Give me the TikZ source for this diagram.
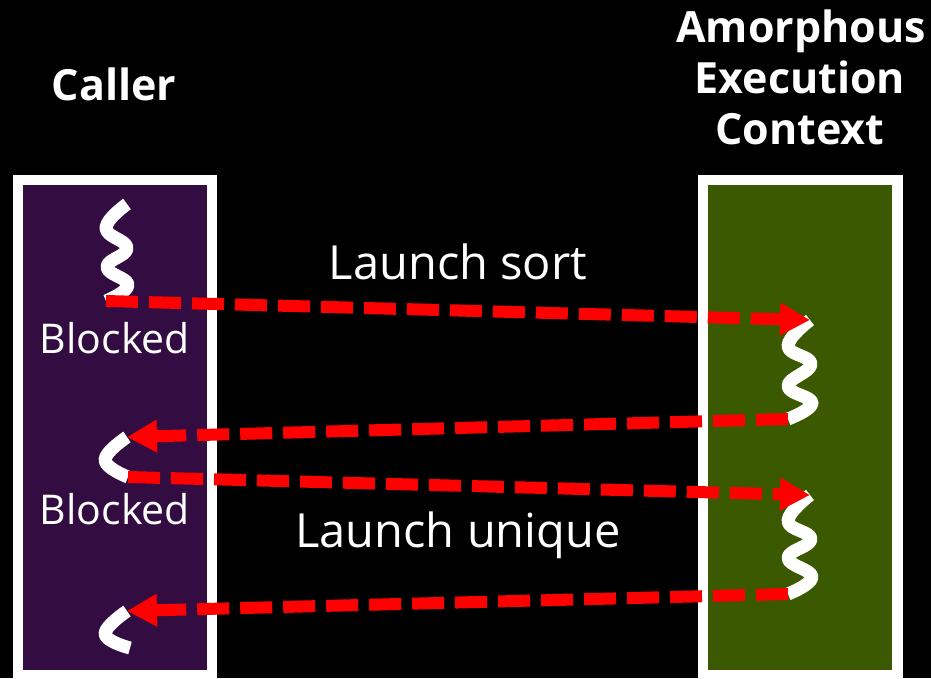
\documentclass[tikz,border=0pt]{standalone}
\usepackage{fontspec}
\setmainfont{Open Sans}
\usetikzlibrary{arrows.meta}
\definecolor{callerbg}{HTML}{330C42}
\definecolor{ctxbg}{HTML}{3B5900}
\tikzset{
  lbl/.style={text=white, inner sep=0pt, anchor=base},
  title/.style={lbl, font=\bfseries\fontsize{43}{50}\selectfont},
  blk/.style={lbl, font=\fontsize{41}{48}\selectfont},
  launch/.style={lbl, font=\fontsize{47}{54}\selectfont},
  thread/.style={draw=white, line width=13pt, line cap=butt, line join=round},
  msg/.style={draw=red, line width=12pt, dash pattern=on 32pt off 11pt,
    -{Triangle[length=30pt,width=31pt]}},
}
\begin{document}
\begin{tikzpicture}[x=1pt,y=-1pt]
\useasboundingbox (0,0) rectangle (931,678);
\fill[black] (0,0) rectangle (931,678);
% boxes
\fill[white] (13,175) rectangle (217,678);
\fill[callerbg] (23,185) rectangle (207,670);
\fill[white] (698,175) rectangle (903,678);
\fill[ctxbg] (708,185) rectangle (892,670);
% titles
\node[title] (caller) at (114,100) {Caller};
\node[title] (t1) at (801,42) {Amorphous};
\node[title] (t2) at (800,93) {Execution};
\node[title] (t3) at (800,144) {Context};
% labels
\node[launch] (ls) at (458,279) {Launch sort};
\node[launch] (lu) at (458,547) {Launch unique};
\node[blk] (b1) at (115,353) {Blocked};
\node[blk] (b2) at (115,524) {Blocked};
% thread end points
\coordinate (c1s) at (127,204);
\coordinate (c1e) at (106,301);
\coordinate (e1s) at (810,320);
\coordinate (e1e) at (788,419);
\coordinate (c2s) at (127,437);
\coordinate (c2e) at (128,477);
\coordinate (e2s) at (810,495);
\coordinate (e2e) at (788,594);
\coordinate (c3s) at (127,611);
\coordinate (c3e) at (130,648);
% threads
\draw[thread] plot[smooth, tension=0.75] coordinates {(c1s) (106,228) (127,248) (107,267) (128,285) (c1e)};
\draw[thread] plot[smooth, tension=0.75] coordinates {(e1s) (788,346) (811,364) (788,386) (812,403) (e1e)};
\draw[thread] plot[smooth, tension=0.75] coordinates {(c2s) (105,460) (c2e)};
\draw[thread] plot[smooth, tension=0.75] coordinates {(e2s) (788,521) (811,539) (788,558) (812,577) (e2e)};
\draw[thread] plot[smooth, tension=0.75] coordinates {(c3s) (105,634) (c3e)};
% messages
\draw[msg] (c1e) -- (e1s);
\draw[msg] (e1e) -- (c2s);
\draw[msg] (c2e) -- (e2s);
\draw[msg] (e2e) -- (c3s);
\end{tikzpicture}
\end{document}
